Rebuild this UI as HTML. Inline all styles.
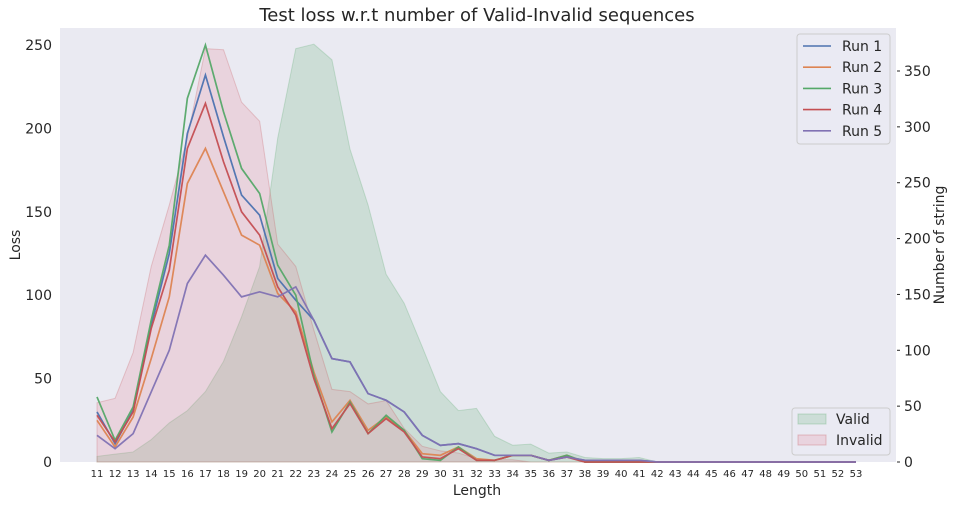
<!DOCTYPE html>
<html><head><meta charset="utf-8"><style>
body{margin:0;background:#fff;font-family:"Liberation Sans","DejaVu Sans",sans-serif;}
svg text{font-family:"DejaVu Sans","Liberation Sans",sans-serif;fill:#262626;}
</style></head><body>
<svg id="chart" width="954" height="504"></svg>
<script>
const categories=[11,12,13,14,15,16,17,18,19,20,21,22,23,24,25,26,27,28,29,30,31,32,33,34,35,36,37,38,39,40,41,42,43,44,45,46,47,48,49,50,51,52,53];
const run1=[30,11,31,82,125,197,232,195,160,148,110,97,85,62,60,41,37,30,16,10,11,8,4,4,4,1,3,1,1,1,1,0,0,0,0,0,0,0,0,0,0,0,0];
const run2=[25,9,27,62,99,167,188,162,136,130,101,90,54,24,37,19,27,19,5,4,9,2,1,4,4,1,4,0,0,0,0,0,0,0,0,0,0,0,0,0,0,0,0];
const run3=[39,13,33,85,130,218,250,210,176,161,118,100,52,18,36,17,28,19,2,1,9,1,1,4,4,1,4,0,0,0,0,0,0,0,0,0,0,0,0,0,0,0,0];
const run4=[28,12,30,80,115,188,215,180,150,136,105,88,50,20,35,17,26,18,3,2,8,1,1,4,4,1,3,0,0,0,0,0,0,0,0,0,0,0,0,0,0,0,0];
const run5=[16,8,17,42,67,107,124,112,99,102,99,105,85,62,60,41,37,30,16,10,11,8,4,4,4,1,3,1,1,1,1,0,0,0,0,0,0,0,0,0,0,0,0];
const validCounts=[5,7,9,20,35,46,63,90,130,175,290,370,374,360,280,230,168,142,103,63,46,48,23,15,16,8,9,4,3,3,4,0,0,0,0,0,0,0,0,0,0,0,0];
const invalidCounts=[53,57,98,175,230,290,370,369,322,305,195,175,118,65,63,52,55,30,14,10,8,3,2,2,0,0,0,0,0,0,0,0,0,0,0,0,0,0,0,0,0,0,0];
const leftTicks=[0,50,100,150,200,250];
const rightTicks=[0,50,100,150,200,250,300,350];

const NS="http://www.w3.org/2000/svg";
const svg=document.getElementById('chart');
const L=60,R=896,T=28,B=462;
const xs=i=>97+i*(856-97)/(categories.length-1);
const yl=v=>B-v*(417/250);
const yr=v=>B-v*(391/350);
function mk(tag,attrs,parent){const e=document.createElementNS(NS,tag);for(const k in attrs)e.setAttribute(k,attrs[k]);(parent||svg).appendChild(e);return e;}

const bg=mk('rect',{x:L,y:T,width:R-L,height:B-T,fill:'#eaeaf2'});



function area(arr,fill,stroke,name){
  let d='M'+xs(0)+','+B;
  arr.forEach((v,i)=>{d+=' L'+xs(i)+','+yr(v);});
  d+=' L'+xs(arr.length-1)+','+B+' Z';
  const p=mk('path',{d:d,fill:fill,'fill-opacity':0.2,stroke:stroke,'stroke-opacity':0.25});
  
  
}
area(validCounts,'#55a868','#55a868','valid-area');
area(invalidCounts,'#e6788a','#c44e52','invalid-area');

const runs=[[run1,'#4c72b0','run-1-line'],[run2,'#dd8452','run-2-line'],[run3,'#55a868','run-3-line'],[run4,'#c44e52','run-4-line'],[run5,'#8172b3','run-5-line']];
runs.forEach(([arr,c,n])=>{
  const p=mk('polyline',{points:arr.map((v,i)=>xs(i)+','+yl(v)).join(' '),fill:'none',stroke:c,'stroke-width':1.7,'stroke-opacity':0.95});
  
  
});

categories.forEach((c,i)=>{
  const t=mk('text',{x:xs(i),y:477,'font-size':10,'text-anchor':'middle'});t.textContent=c;
  
  
});
leftTicks.forEach(v=>{
  const t=mk('text',{x:52,y:yl(v)+5,'font-size':14,'text-anchor':'end'});t.textContent=v;
  
  
});
rightTicks.forEach(v=>{
  mk('line',{x1:R+1,x2:R+4,y1:yr(v),y2:yr(v),stroke:'#262626','stroke-width':1});
  const t=mk('text',{x:904,y:yr(v)+5,'font-size':14});t.textContent=v;
  
  
});
const title=mk('text',{x:477,y:21,'font-size':18,'text-anchor':'middle'});title.textContent='Test loss w.r.t number of Valid-Invalid sequences';


const xt=mk('text',{x:477,y:495,'font-size':14,'text-anchor':'middle'});xt.textContent='Length';


const ylt=mk('text',{x:0,y:0,'font-size':14,'text-anchor':'middle',transform:'translate(20,245) rotate(-90)'});ylt.textContent='Loss';


const yrt=mk('text',{x:0,y:0,'font-size':14,'text-anchor':'middle',transform:'translate(944,245) rotate(-90)'});yrt.textContent='Number of string';



const lg=mk('g',{});


mk('rect',{x:797,y:34,width:93,height:110,rx:3,fill:'#eaeaf2','fill-opacity':0.8,stroke:'#cccccc'},lg);
runs.forEach(([a,c,n],i)=>{
  const y=46+i*21.2;
  mk('line',{x1:803,x2:831,y1:y,y2:y,stroke:c,'stroke-width':1.6},lg);
  const t=mk('text',{x:842,y:y+5,'font-size':14},lg);t.textContent='Run '+(i+1);
  
  
});
const lg2=mk('g',{});


mk('rect',{x:792,y:408,width:98,height:47,rx:3,fill:'#eaeaf2','fill-opacity':0.8,stroke:'#cccccc'},lg2);
[['Valid','#55a868','#55a868'],['Invalid','#e6788a','#c44e52']].forEach(([n,f,s],i)=>{
  const y=419+i*21;
  mk('rect',{x:798,y:y-5,width:28,height:10,fill:f,'fill-opacity':0.2,stroke:s,'stroke-opacity':0.3},lg2);
  const t=mk('text',{x:836,y:y+5,'font-size':14},lg2);t.textContent=n;
  
  
});
</script>
</body></html>
